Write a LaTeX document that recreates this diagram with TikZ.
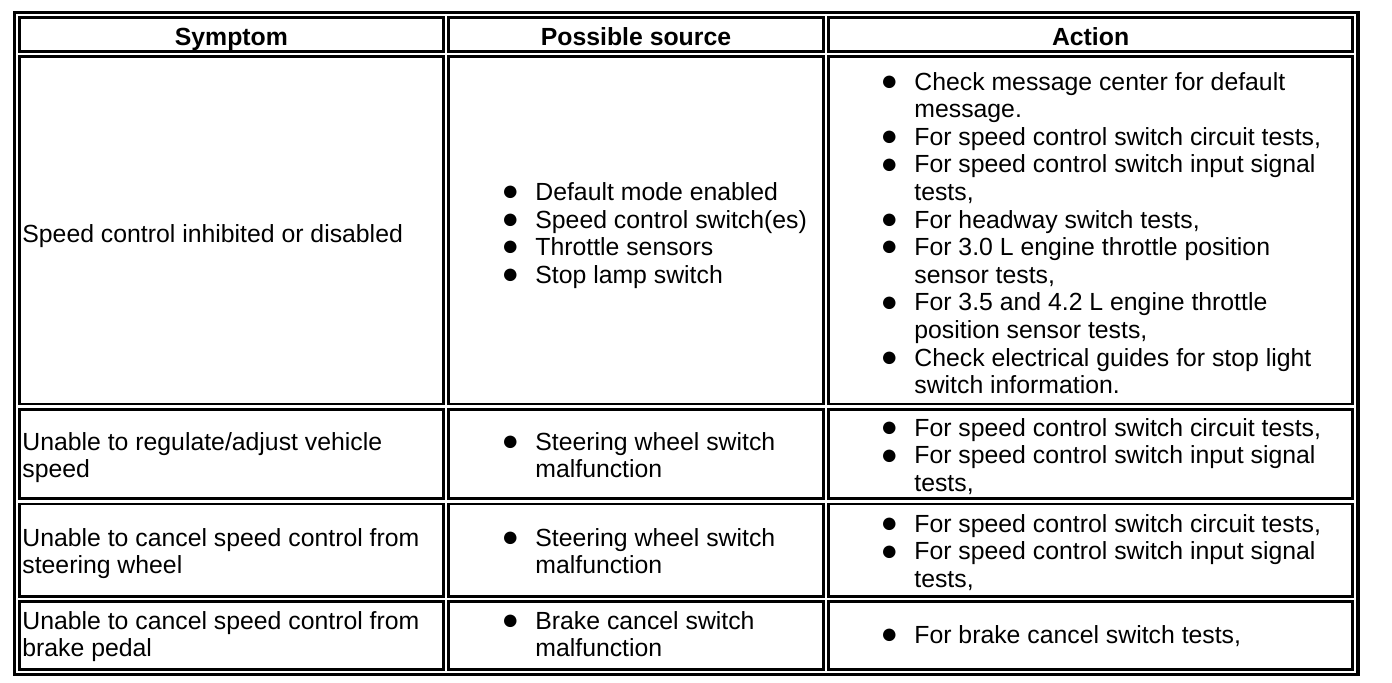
\documentclass[tikz,border=0pt]{standalone}
\usepackage{fontspec}
\setmainfont{Liberation Sans}
\usetikzlibrary{positioning}
\tikzstyle{frame} = [draw, line width=1.6pt]
\tikzstyle{cell} = [draw, line width=1.35pt]
\tikzstyle{head} = [inner sep=0pt, align=center,
    font=\fontsize{12.4pt}{13.8pt}\selectfont\bfseries,
    execute at begin node=\strut, execute at end node=\strut]
\tikzstyle{body} = [inner sep=0pt, align=left, anchor=west,
    font=\fontsize{12.4pt}{13.8pt}\selectfont,
    execute at begin node=\strut, execute at end node=\strut]
\newcommand{\bul}{\llap{\raisebox{-0.1pt}{\makebox[0pt]{\fontsize{14.5pt}{13.8pt}\selectfont ●}}\hspace{12.5pt}}}

\begin{document}
\begin{tikzpicture}[x=0.5pt, y=-0.5pt]
  \useasboundingbox (0,0) rectangle (1392,682);
  % Draw the frame and the cells
  \draw [frame] (14.2,12.5) rectangle (1358,674.5);
  \foreach \xa/\xb in {19.5/443.3, 448.7/823.3, 828.7/1352.5}
    \foreach \ya/\yb in {17.3/51.3, 56.7/404, 409.3/498.7, 504/596.3, 601.7/669.5}
      \draw [cell] (\xa,\ya) rectangle (\xb,\yb);

  % Place the headings
  \node [head] (hsym) at (231.4,40) {Symptom};
  \node [head] (hsrc) at (636,40) {Possible source};
  \node [head] (hact) at (1090.6,40) {Action};

  % Place the symptoms
  \node [body] (sym1) at (22,236.5) {Speed control inhibited or disabled};
  \node [body] (sym2) at (22,459) {Unable to regulate/adjust vehicle\\speed};
  \node [body] (sym3) at (22,555) {Unable to cancel speed control from\\steering wheel};
  \node [body] (sym4) at (22,638) {Unable to cancel speed control from\\brake pedal};

  % Place the sources
  \node [body] (src1) at (535,237) {\bul Default mode enabled\\\bul Speed control switch(es)\\
    \bul Throttle sensors\\\bul Stop lamp switch};
  \node [body] (src2) at (535,459) {\bul Steering wheel switch\\malfunction};
  \node [body] (src3) at (535,555) {\bul Steering wheel switch\\malfunction};
  \node [body] (src4) at (535,638) {\bul Brake cancel switch\\malfunction};

  % Place the actions
  \node [body] (act1) at (914,237) {\bul Check message center for default\\message.\\
    \bul For speed control switch circuit tests,\\\bul For speed control switch input signal\\tests,\\
    \bul For headway switch tests,\\\bul For 3.0 L engine throttle position\\sensor tests,\\
    \bul For 3.5 and 4.2 L engine throttle\\position sensor tests,\\
    \bul Check electrical guides for stop light\\switch information.};
  \node [body] (act2) at (914,459) {\bul For speed control switch circuit tests,\\
    \bul For speed control switch input signal\\tests,};
  \node [body] (act3) at (914,555) {\bul For speed control switch circuit tests,\\
    \bul For speed control switch input signal\\tests,};
  \node [body] (act4) at (914,638) {\bul For brake cancel switch tests,};
\end{tikzpicture}
\end{document}
